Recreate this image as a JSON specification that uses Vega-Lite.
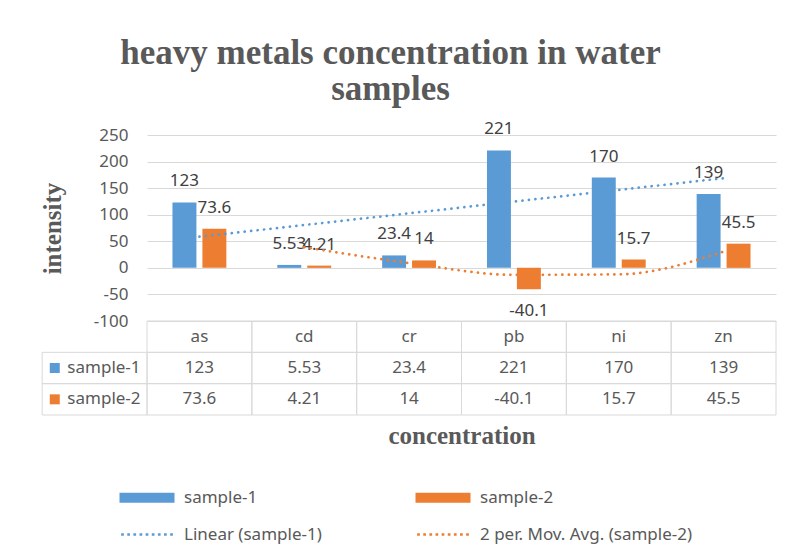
{
  "$schema": "https://vega.github.io/schema/vega-lite/v6.json",
  "width": 629,
  "height": 280,
  "autosize": {"type": "none"},
  "padding": {"left": 147, "top": 135, "right": 12, "bottom": 141},
  "background": "white",
  "config": {
    "view": {"stroke": null},
    "font": "Noto Sans",
    "axis": {"domain": false, "ticks": false, "tickSize": 0, "labelOverlap": false},
    "axisY": {
      "grid": true, "gridColor": "#d9d9d9", "gridWidth": 1,
      "labelFont": "Noto Sans", "labelFontSize": 17, "labelColor": "#595959", "labelPadding": 19,
      "labelExpr": "'' + datum.value",
      "titleFont": "Liberation Serif", "titleFontSize": 25, "titleFontWeight": "bold",
      "titleColor": "#595959", "titlePadding": 28
    },
    "axisX": {
      "labels": false, "grid": false,
      "titleFont": "Liberation Serif", "titleFontSize": 25, "titleFontWeight": "bold",
      "titleColor": "#595959", "titlePadding": 8
    }
  },
  "title": {
    "text": ["heavy metals concentration in water", "samples"],
    "font": "Liberation Serif",
    "fontSize": 35,
    "fontWeight": "bold",
    "color": "#595959",
    "anchor": "middle",
    "frame": "group",
    "dx": -71,
    "baseline": "bottom",
    "offset": -22,
    "lineHeight": 36
  },
  "datasets": {
    "vals": [
      {"cat": "as", "series": "sample-1", "value": 123},
      {"cat": "cd", "series": "sample-1", "value": 5.53},
      {"cat": "cr", "series": "sample-1", "value": 23.4},
      {"cat": "pb", "series": "sample-1", "value": 221},
      {"cat": "ni", "series": "sample-1", "value": 170},
      {"cat": "zn", "series": "sample-1", "value": 139},
      {"cat": "as", "series": "sample-2", "value": 73.6},
      {"cat": "cd", "series": "sample-2", "value": 4.21},
      {"cat": "cr", "series": "sample-2", "value": 14},
      {"cat": "pb", "series": "sample-2", "value": -40.1},
      {"cat": "ni", "series": "sample-2", "value": 15.7},
      {"cat": "zn", "series": "sample-2", "value": 45.5}
    ],
    "trend": [
      {"cat": "as", "series": "Linear (sample-1)", "value": 58.6},
      {"cat": "cd", "series": "Linear (sample-1)", "value": 80.6},
      {"cat": "cr", "series": "Linear (sample-1)", "value": 102.6},
      {"cat": "pb", "series": "Linear (sample-1)", "value": 124.7},
      {"cat": "ni", "series": "Linear (sample-1)", "value": 146.7},
      {"cat": "zn", "series": "Linear (sample-1)", "value": 168.7},
      {"cat": "cd", "series": "2 per. Mov. Avg. (sample-2)", "value": 38.9},
      {"cat": "cr", "series": "2 per. Mov. Avg. (sample-2)", "value": 9.1},
      {"cat": "pb", "series": "2 per. Mov. Avg. (sample-2)", "value": -13.1},
      {"cat": "ni", "series": "2 per. Mov. Avg. (sample-2)", "value": -12.2},
      {"cat": "zn", "series": "2 per. Mov. Avg. (sample-2)", "value": 30.6}
    ],
    "series": [
      {"series": "sample-1"},
      {"series": "sample-2"},
      {"series": "Linear (sample-1)"},
      {"series": "2 per. Mov. Avg. (sample-2)"}
    ]
  },
  "resolve": {"scale": {"x": "independent", "y": "independent"}},
  "layer": [
    {
      "layer": [
        {
          "data": {"name": "vals"},
          "mark": {"type": "bar"},
          "encoding": {
            "x": {
              "field": "cat", "type": "nominal", "sort": null, "title": "concentration",
              "scale": {"domain": ["as", "cd", "cr", "pb", "ni", "zn"], "paddingInner": 0.486, "paddingOuter": 0.243}
            },
            "xOffset": {"field": "series", "type": "nominal", "scale": {"domain": ["sample-1", "sample-2"], "paddingInner": 0.2}},
            "y": {
              "field": "value", "type": "quantitative", "title": "intensity",
              "scale": {"domain": [-100, 250], "range": [186, 0], "nice": false, "zero": false},
              "axis": {"values": [-100, -50, 0, 50, 100, 150, 200, 250], "tickCount": 20, "labelOverlap": false}
            },
            "color": {
              "field": "series", "type": "nominal",
              "scale": {
                "domain": ["sample-1", "sample-2", "Linear (sample-1)", "2 per. Mov. Avg. (sample-2)"],
                "range": ["#5B9BD5", "#ED7D31", "#5B9BD5", "#ED7D31"]
              }
            }
          }
        },
        {
          "data": {"name": "vals"},
          "transform": [{"filter": "datum.value >= 0"}],
          "mark": {"type": "text", "baseline": "middle", "dy": -21, "fontSize": 17, "color": "#404040", "font": "Noto Sans"},
          "encoding": {
            "x": {"field": "cat", "type": "nominal", "sort": null, "title": "concentration"},
            "xOffset": {"field": "series", "type": "nominal"},
            "y": {"field": "value", "type": "quantitative", "title": "intensity"},
            "text": {"field": "value", "type": "nominal"}
          }
        },
        {
          "data": {"name": "vals"},
          "transform": [{"filter": "datum.value < 0"}],
          "mark": {"type": "text", "baseline": "middle", "dy": 22, "fontSize": 17, "color": "#404040", "font": "Noto Sans"},
          "encoding": {
            "x": {"field": "cat", "type": "nominal", "sort": null, "title": "concentration"},
            "xOffset": {"field": "series", "type": "nominal"},
            "y": {"field": "value", "type": "quantitative", "title": "intensity"},
            "text": {"field": "value", "type": "nominal"}
          }
        },
        {
          "data": {"name": "trend"},
          "transform": [{"filter": "datum.series == 'Linear (sample-1)'"}],
          "mark": {"type": "line", "color": "#5B9BD5", "strokeWidth": 2.7, "strokeDash": [0.1, 6.4], "strokeCap": "round"},
          "encoding": {
            "x": {"field": "cat", "type": "nominal", "sort": null, "title": "concentration"},
            "y": {"field": "value", "type": "quantitative", "title": "intensity"}
          }
        },
        {
          "data": {"name": "trend"},
          "transform": [{"filter": "datum.series == '2 per. Mov. Avg. (sample-2)'"}],
          "mark": {"type": "line", "color": "#ED7D31", "strokeWidth": 2.7, "strokeDash": [0.1, 6.4], "strokeCap": "round", "interpolate": "monotone"},
          "encoding": {
            "x": {"field": "cat", "type": "nominal", "sort": null, "title": "concentration"},
            "y": {"field": "value", "type": "quantitative", "title": "intensity"}
          }
        },
        {
          "data": {"name": "series"},
          "mark": {"type": "point", "filled": true, "opacity": 0},
          "encoding": {
            "color": {
              "field": "series", "type": "nominal",
              "legend": {
                "orient": "none", "legendX": -31, "legendY": 354,
                "direction": "horizontal", "columns": 2, "columnPadding": 90, "rowPadding": 19,
                "title": null, "symbolSize": 100, "symbolOpacity": 1, "symbolStrokeWidth": 0,
                "labelFont": "Noto Sans", "labelFontSize": 17, "labelColor": "#595959", "labelOffset": 51,
                "labelLimit": 400, "padding": 0,
                "encode": {
                  "symbols": {
                    "update": {
                      "opacity": {"value": 1},
                      "fillOpacity": {"value": 1},
                      "fill": {"scale": "color", "field": "value"},
                      "strokeWidth": {"value": 0}
                    }
                  }
                }
              }
            },
            "shape": {
              "field": "series", "type": "nominal",
              "scale": {
                "domain": ["sample-1", "sample-2", "Linear (sample-1)", "2 per. Mov. Avg. (sample-2)"],
                "range": [
                  "M-1,-1H10V1H-1Z",
                  "M-1,-1H10V1H-1Z",
                  "M-0.67,-0.27h0.54v0.54h-0.54Z M0.555,-0.27h0.54v0.54h-0.54Z M1.78,-0.27h0.54v0.54h-0.54Z M3.005,-0.27h0.54v0.54h-0.54Z M4.23,-0.27h0.54v0.54h-0.54Z M5.455,-0.27h0.54v0.54h-0.54Z M6.68,-0.27h0.54v0.54h-0.54Z M7.905,-0.27h0.54v0.54h-0.54Z M9.13,-0.27h0.54v0.54h-0.54Z",
                  "M-0.67,-0.27h0.54v0.54h-0.54Z M0.555,-0.27h0.54v0.54h-0.54Z M1.78,-0.27h0.54v0.54h-0.54Z M3.005,-0.27h0.54v0.54h-0.54Z M4.23,-0.27h0.54v0.54h-0.54Z M5.455,-0.27h0.54v0.54h-0.54Z M6.68,-0.27h0.54v0.54h-0.54Z M7.905,-0.27h0.54v0.54h-0.54Z M9.13,-0.27h0.54v0.54h-0.54Z"
                ]
              }
            }
          }
        }
      ]
    },
    {
      "layer": [
        {
          "data": {"name": "vals"},
          "mark": {"type": "rect", "fill": "white", "fillOpacity": 0, "stroke": "#d9d9d9", "strokeWidth": 1},
          "encoding": {
            "x": {"field": "cat", "type": "nominal", "axis": null,
                  "scale": {"domain": ["lbl", "as", "cd", "cr", "pb", "ni", "zn"], "range": [-104.8, 629], "paddingInner": 0, "paddingOuter": 0}},
            "y": {"field": "series", "type": "nominal", "axis": null,
                  "scale": {"domain": ["hdr", "sample-1", "sample-2"], "range": [186, 280], "paddingInner": 0, "paddingOuter": 0}}
          }
        },
        {
          "data": {"name": "vals"},
          "transform": [{"filter": "datum.series == 'sample-1'"}],
          "mark": {"type": "rect", "fill": "white", "fillOpacity": 0, "stroke": "#d9d9d9", "strokeWidth": 1},
          "encoding": {
            "x": {"field": "cat", "type": "nominal", "axis": null},
            "y": {"datum": "hdr", "type": "nominal", "axis": null}
          }
        },
        {
          "data": {"name": "vals"},
          "transform": [{"filter": "datum.cat == 'as'"}],
          "mark": {"type": "rect", "fill": "white", "fillOpacity": 0, "stroke": "#d9d9d9", "strokeWidth": 1},
          "encoding": {
            "x": {"datum": "lbl", "type": "nominal", "axis": null},
            "y": {"field": "series", "type": "nominal", "axis": null}
          }
        },
        {
          "data": {"name": "vals"},
          "mark": {"type": "text", "fontSize": 17, "color": "#595959", "font": "Noto Sans", "baseline": "middle"},
          "encoding": {
            "x": {"field": "cat", "type": "nominal", "axis": null},
            "y": {"field": "series", "type": "nominal", "axis": null},
            "text": {"field": "value", "type": "nominal"}
          }
        },
        {
          "data": {"name": "vals"},
          "transform": [{"filter": "datum.series == 'sample-1'"}],
          "mark": {"type": "text", "fontSize": 17, "color": "#595959", "font": "Noto Sans", "baseline": "middle"},
          "encoding": {
            "x": {"field": "cat", "type": "nominal", "axis": null},
            "y": {"datum": "hdr", "type": "nominal", "axis": null},
            "text": {"field": "cat", "type": "nominal"}
          }
        },
        {
          "data": {"name": "vals"},
          "transform": [{"filter": "datum.cat == 'as'"}],
          "mark": {"type": "text", "fontSize": 17, "color": "#595959", "font": "Noto Sans", "baseline": "middle", "align": "left"},
          "encoding": {
            "x": {"datum": "lbl", "type": "nominal", "axis": null, "bandPosition": 0.24},
            "y": {"field": "series", "type": "nominal", "axis": null},
            "text": {"field": "series", "type": "nominal"}
          }
        },
        {
          "data": {"name": "vals"},
          "transform": [{"filter": "datum.cat == 'as'"}],
          "mark": {"type": "point", "shape": "square", "filled": true, "size": 100, "opacity": 1, "strokeWidth": 0},
          "encoding": {
            "x": {"datum": "lbl", "type": "nominal", "axis": null, "bandPosition": 0.12},
            "y": {"field": "series", "type": "nominal", "axis": null},
            "color": {"condition": {"test": "datum.series == 'sample-1'", "value": "#5B9BD5"}, "value": "#ED7D31"}
          }
        }
      ]
    }
  ]
}
